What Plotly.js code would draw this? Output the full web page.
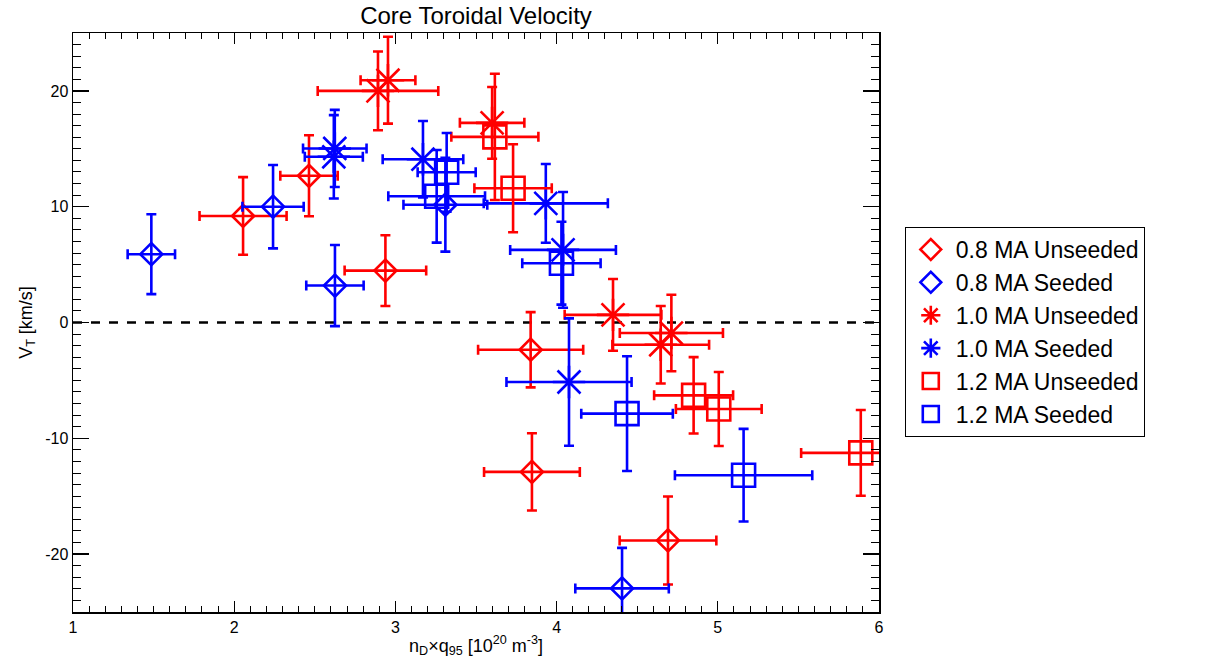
<!DOCTYPE html>
<html>
<head>
<meta charset="utf-8">
<script src="https://cdn.plot.ly/plotly-3.0.1.min.js"></script>
<style>
  html, body { margin: 0; padding: 0; background: #fff; }
  #chart { width: 1211px; height: 667px; }
</style>
</head>
<body>
<div id="chart"></div>
<script>
// ---- Data ----
// 0.8 MA Unseeded (red diamonds)
const u08_x    = [2.055, 2.464, 2.938, 3.839, 3.847, 4.691];
const u08_y    = [9.2, 12.67, 4.48, -2.35, -12.9, -18.82];
const u08_xerr = [0.27, 0.178, 0.253, 0.326, 0.297, 0.30];
const u08_yerr = [3.35, 3.5, 3.06, 3.25, 3.34, 3.8];

// 0.8 MA Seeded (blue diamonds)
const s08_x    = [1.486, 2.241, 2.625, 3.31, 4.406];
const s08_y    = [5.9, 10.0, 3.19, 10.17, -22.96];
const s08_xerr = [0.147, 0.19, 0.178, 0.26, 0.29];
const s08_yerr = [3.45, 3.6, 3.5, 4.05, 3.5];

// 1.0 MA Unseeded (red asterisks)
const u10_x    = [2.892, 2.954, 3.60, 4.35, 4.712, 4.646];
const u10_y    = [20.0, 20.92, 17.24, 0.66, -0.91, -1.92];
const u10_xerr = [0.374, 0.17, 0.20, 0.30, 0.32, 0.30];
const u10_yerr = [3.4, 3.75, 3.1, 3.1, 3.3, 3.35];

// 1.0 MA Seeded (blue asterisks)
const s10_x    = [2.624, 2.618, 3.171, 3.933, 4.04, 4.077];
const s10_y    = [15.03, 14.31, 14.1, 10.29, 6.27, -5.14];
const s10_xerr = [0.197, 0.18, 0.25, 0.385, 0.328, 0.388];
const s10_yerr = [3.33, 3.6, 3.3, 3.4, 5.0, 5.5];

// 1.2 MA Unseeded (red squares)
const u12_x    = [3.617, 3.73, 4.85, 5.006, 5.887];
const u12_y    = [16.03, 11.59, -6.29, -7.47, -11.26];
const u12_xerr = [0.27, 0.24, 0.245, 0.266, 0.37];
const u12_yerr = [5.45, 3.8, 3.3, 3.2, 3.7];

// 1.2 MA Seeded (blue squares)
const s12_x    = [3.318, 3.256, 4.03, 4.437, 5.16];
const s12_y    = [12.97, 10.9, 5.12, -7.87, -13.19];
const s12_xerr = [0.18, 0.30, 0.243, 0.284, 0.426];
const s12_yerr = [3.4, 4.0, 3.58, 4.95, 4.0];

const seriesNames = ["0.8 MA Unseeded", "0.8 MA Seeded", "1.0 MA Unseeded",
                     "1.0 MA Seeded", "1.2 MA Unseeded", "1.2 MA Seeded"];

// Tick labels (reference uses a plain hyphen for negatives)
const yTickVals = [-20, -10, 0, 10, 20];
const yTickText = ["-20", "-10", "0", "10", "20"];
const xTickVals = [1, 2, 3, 4, 5, 6];
const xTickText = ["1", "2", "3", "4", "5", "6"];

// ---- Styling ----
const RED = "#ff0000", BLUE = "#0000ff";
const FONT = "Liberation Sans, Arial, Helvetica, sans-serif";

function series(name, x, y, xe, ye, color, symbol, size) {
  return {
    type: "scatter", mode: "markers", name: name,
    x: x, y: y,
    error_x: {type: "data", array: xe, visible: true, color: color, thickness: 2.6, width: 5},
    error_y: {type: "data", array: ye, visible: true, color: color, thickness: 2.6, width: 5},
    marker: {symbol: symbol, size: size, color: color, line: {color: color, width: 2.6}},
    hoverinfo: "x+y+name"
  };
}

const traces = [
  series(seriesNames[0], u08_x, u08_y, u08_xerr, u08_yerr, RED,  "diamond-open", 17),
  series(seriesNames[1], s08_x, s08_y, s08_xerr, s08_yerr, BLUE, "diamond-open", 17),
  series(seriesNames[2], u10_x, u10_y, u10_xerr, u10_yerr, RED,  "asterisk-open", 27),
  series(seriesNames[3], s10_x, s10_y, s10_xerr, s10_yerr, BLUE, "asterisk-open", 27),
  series(seriesNames[4], u12_x, u12_y, u12_xerr, u12_yerr, RED,  "square-open", 23),
  series(seriesNames[5], s12_x, s12_y, s12_xerr, s12_yerr, BLUE, "square-open", 23)
];

const layout = {
  width: 1211, height: 667,
  paper_bgcolor: "#fff", plot_bgcolor: "#fff",
  margin: {l: 73, r: 332, t: 33, b: 55, pad: 0},
  font: {family: FONT, color: "#000", size: 16},
  title: {
    text: "Core Toroidal Velocity",
    font: {family: FONT, size: 24, color: "#000"},
    x: 0.5, xanchor: "center", xref: "paper",
    y: 0.977, yanchor: "middle", yref: "container"
  },
  showlegend: true,
  legend: {
    x: 1.032, xanchor: "left", y: 0.4836, yanchor: "middle",
    bordercolor: "#000", borderwidth: 1, bgcolor: "#fff",
    font: {family: FONT, size: 23, color: "#000"},
    itemwidth: 40, tracegroupgap: 0
  },
  xaxis: {
    range: [1, 6], autorange: false,
    tickmode: "array", tickvals: xTickVals, ticktext: xTickText,
    ticks: "inside", ticklen: 11, tickwidth: 1.2, tickcolor: "#000",
    minor: {tickmode: "linear", tick0: 1, dtick: 0.1, ticks: "inside", ticklen: 6, tickwidth: 1, tickcolor: "#000", showgrid: false},
    showline: true, linecolor: "#000", linewidth: 1.5, mirror: "ticks",
    showgrid: false, zeroline: false,
    tickfont: {family: FONT, size: 16, color: "#000"},
    title: {text: "n<sub>D</sub>×q<sub>95</sub> [10<sup>20</sup> m<sup>-3</sup>]",
            font: {family: FONT, size: 18, color: "#000"}, standoff: 4}
  },
  yaxis: {
    range: [-25, 25], autorange: false,
    tickmode: "array", tickvals: yTickVals, ticktext: yTickText,
    ticks: "inside", ticklen: 16, tickwidth: 1.2, tickcolor: "#000",
    minor: {tickmode: "linear", tick0: 0, dtick: 1, ticks: "inside", ticklen: 8, tickwidth: 1, tickcolor: "#000", showgrid: false},
    showline: true, linecolor: "#000", linewidth: 1.5, mirror: "ticks",
    showgrid: false, zeroline: false,
    tickfont: {family: FONT, size: 16, color: "#000"},
    title: {text: "V<sub>T</sub> [km/s]", font: {family: FONT, size: 18, color: "#000"}, standoff: 8}
  },
  shapes: [{
    type: "line", xref: "paper", x0: 0, x1: 1, yref: "y", y0: 0, y1: 0,
    line: {color: "#000", width: 2.5, dash: "dash"}, layer: "below"
  }]
};

Plotly.newPlot("chart", traces, layout, {displayModeBar: false, staticPlot: true});
</script>
</body>
</html>
